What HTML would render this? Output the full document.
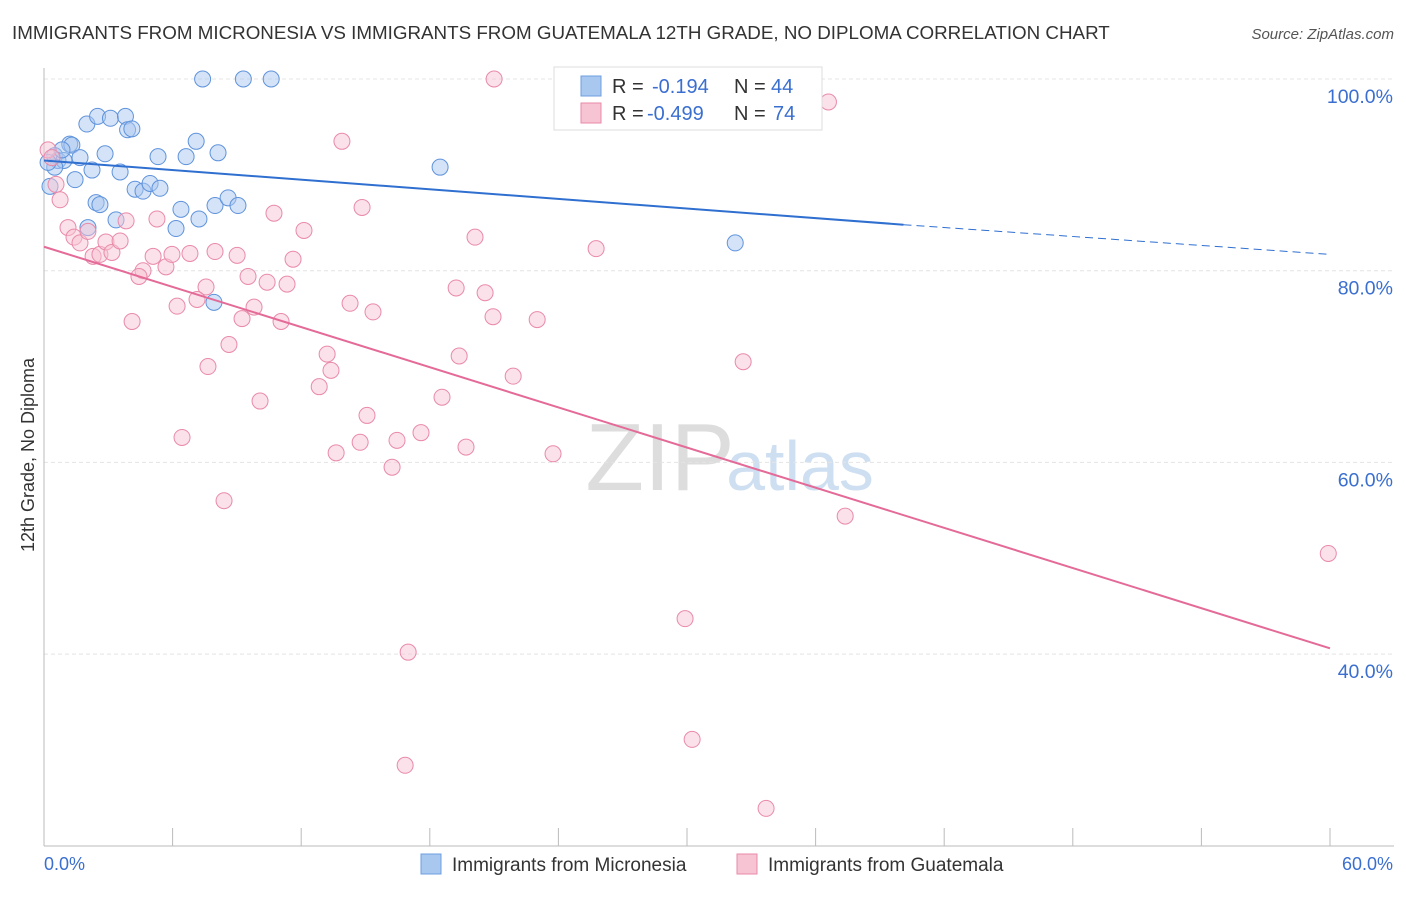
<!DOCTYPE html>
<html><head><meta charset="utf-8">
<style>
body{margin:0;background:#fff;font-family:"Liberation Sans",sans-serif;}
svg text{font-family:"Liberation Sans",sans-serif;}
</style></head>
<body>
<svg id="chart" width="1406" height="892">
<text x="12" y="39" font-size="18.8" fill="#333">IMMIGRANTS FROM MICRONESIA VS IMMIGRANTS FROM GUATEMALA 12TH GRADE, NO DIPLOMA CORRELATION CHART</text>
<text x="1394" y="39" font-size="15" fill="#555" text-anchor="end" font-style="italic">Source: ZipAtlas.com</text>
<text x="660" y="490" font-size="96" fill="#ddd" font-family="Liberation Serif" text-anchor="middle">ZIP</text>
<text x="800" y="490" font-size="70" fill="#cfdff2" text-anchor="middle">atlas</text>
<text transform="translate(34,455) rotate(-90)" font-size="18" fill="#333" text-anchor="middle">12th Grade, No Diploma</text>
<g id="grid"></g><g id="marks"></g>
<g>
<rect x="554" y="67" width="268" height="63" fill="#fff" stroke="#ddd"/>
<rect x="581" y="76" width="20" height="20" fill="#a9c8f0" stroke="#6d9ee0"/>
<rect x="581" y="103" width="20" height="20" fill="#f7c4d3" stroke="#e98aa9"/>
<text x="612" y="93" font-size="20" fill="#333">R =</text>
<text x="652" y="93" font-size="20" fill="#3a6fd0">-0.194</text>
<text x="734" y="93" font-size="20" fill="#333">N =</text>
<text x="771" y="93" font-size="20" fill="#3a6fd0">44</text>
<text x="612" y="120" font-size="20" fill="#333">R =</text>
<text x="647" y="120" font-size="20" fill="#3a6fd0">-0.499</text>
<text x="734" y="120" font-size="20" fill="#333">N =</text>
<text x="773" y="120" font-size="20" fill="#3a6fd0">74</text>
</g>
<g>
<rect x="421" y="854" width="20" height="20" fill="#a9c8f0" stroke="#6d9ee0"/>
<text x="452" y="871" font-size="19" fill="#333">Immigrants from Micronesia</text>
<rect x="737" y="854" width="20" height="20" fill="#f7c4d3" stroke="#e98aa9"/>
<text x="768" y="871" font-size="19" fill="#333">Immigrants from Guatemala</text>
</g>
</svg>
<script>
const yTicks=[40,60,80,100];
const yTickLabels=["40.0%","60.0%","80.0%","100.0%"];
const xTickLabels=["0.0%","60.0%"];
const blueX=[7.4,9.3,10.6,2.0,2.5,3.1,3.8,3.9,4.1,7.1,1.2,1.3,0.5,0.65,0.93,1.68,2.85,5.32,6.63,8.12,18.48,0.5,1.45,2.24,3.55,0.28,4.25,4.62,4.95,5.41,2.43,2.61,6.39,7.98,8.59,9.05,3.36,7.23,2.05,6.16,7.93,32.25,0.19,0.84];
const blueY=[100,100,100,95.3,96.1,95.9,96.1,94.7,94.8,93.5,93.2,93.1,92.0,91.5,91.5,91.8,92.2,91.9,91.9,92.3,90.8,90.8,89.5,90.5,90.3,88.8,88.5,88.3,89.1,88.6,87.1,86.9,86.4,86.8,87.6,86.8,85.3,85.4,84.5,84.4,76.7,82.9,91.3,92.6];
const pinkX=[21.0,36.6,13.9,0.19,0.37,0.56,0.75,1.12,1.40,1.68,2.05,2.29,2.61,2.89,3.17,3.55,3.83,5.27,10.73,14.84,12.13,20.11,25.76,4.62,5.09,5.69,5.97,6.81,7.98,9.01,11.62,9.52,10.41,11.34,4.43,7.56,6.21,7.14,9.80,9.24,11.06,4.11,14.28,15.35,19.23,20.58,20.95,23.01,8.63,7.65,13.21,13.39,19.37,21.89,32.62,12.84,10.08,18.57,15.07,6.44,14.75,13.63,16.47,17.59,19.69,23.75,16.24,8.40,37.38,59.92,29.91,16.99,30.24,16.85,33.69];
const pinkY=[100,97.6,93.5,92.6,91.8,89.0,87.4,84.5,83.5,82.9,84.1,81.5,81.7,83.0,81.9,83.1,85.2,85.4,86.0,86.6,84.2,83.5,82.3,80.0,81.5,80.4,81.7,81.8,82.0,81.6,81.2,79.4,78.8,78.6,79.4,78.3,76.3,77.0,76.2,75.0,74.7,74.7,76.6,75.7,78.2,77.7,75.2,74.9,72.3,70.0,71.3,69.6,71.1,69.0,70.5,67.9,66.4,66.8,64.9,62.6,62.1,61.0,62.3,63.1,61.6,60.9,59.5,56.0,54.4,50.5,43.7,40.2,31.1,28.4,23.9];
const blueLine=[[0,91.5],[40.1,84.8],[60,81.7]];
const pinkLine=[[0,82.5],[60,40.6]];
const X0=44,X1=1330,YT=79,PX=(X1-X0)/60,PY=9.585;
const sx=v=>X0+v*PX, sy=v=>YT+(100-v)*PY;
const NS="http://www.w3.org/2000/svg";
function mk(t,a,p){const e=document.createElementNS(NS,t);for(const k in a)e.setAttribute(k,a[k]);p.appendChild(e);return e;}
const grid=document.getElementById('grid'),marks=document.getElementById('marks');
yTicks.forEach((t,i)=>{
 const l=mk('line',{x1:44,x2:1394,y1:sy(t),y2:sy(t),stroke:'#e4e4e4','stroke-dasharray':'4,3'},grid);
 
 
 const tx=mk('text',{x:1393,y:sy(t)+24,'font-size':19.5,fill:'#3a6fd0','text-anchor':'end'},grid);tx.textContent=yTickLabels[i];
 
 
});
mk('line',{x1:44,x2:44,y1:68,y2:846,stroke:'#bbb'},grid);
mk('line',{x1:44,x2:1394,y1:846,y2:846,stroke:'#bbb'},grid);
for(let i=0;i<=10;i++){mk('line',{x1:sx(i*6),x2:sx(i*6),y1:828,y2:846,stroke:'#bbb'},grid);}
const xl=mk('text',{x:44,y:870,'font-size':18,fill:'#3a6fd0'},grid);xl.textContent=xTickLabels[0];


const xr=mk('text',{x:1393,y:870,'font-size':18,fill:'#3a6fd0','text-anchor':'end'},grid);xr.textContent=xTickLabels[1];


function dots(xs,ys,fill,stroke,name){xs.forEach((x,i)=>{
 const c=mk('circle',{cx:sx(x),cy:sy(ys[i]),r:8,fill:fill,'fill-opacity':0.5,stroke:stroke,'stroke-width':1},marks);
 
 
});}
dots(blueX,blueY,'#a9c8f0','#5f93dc','micronesia-point');
dots(pinkX,pinkY,'#f7c4d3','#e98aa9','guatemala-point');
const b1=mk('line',{x1:sx(blueLine[0][0]),y1:sy(blueLine[0][1]),x2:sx(blueLine[1][0]),y2:sy(blueLine[1][1]),stroke:'#2f6fd0','stroke-width':2},marks);


const b2=mk('line',{x1:sx(blueLine[1][0]),y1:sy(blueLine[1][1]),x2:sx(blueLine[2][0]),y2:sy(blueLine[2][1]),stroke:'#2f6fd0','stroke-width':1,'stroke-dasharray':'8,5'},marks);


const p1=mk('line',{x1:sx(pinkLine[0][0]),y1:sy(pinkLine[0][1]),x2:sx(pinkLine[1][0]),y2:sy(pinkLine[1][1]),stroke:'#e46a98','stroke-width':2},marks);


</script>
</body></html>
